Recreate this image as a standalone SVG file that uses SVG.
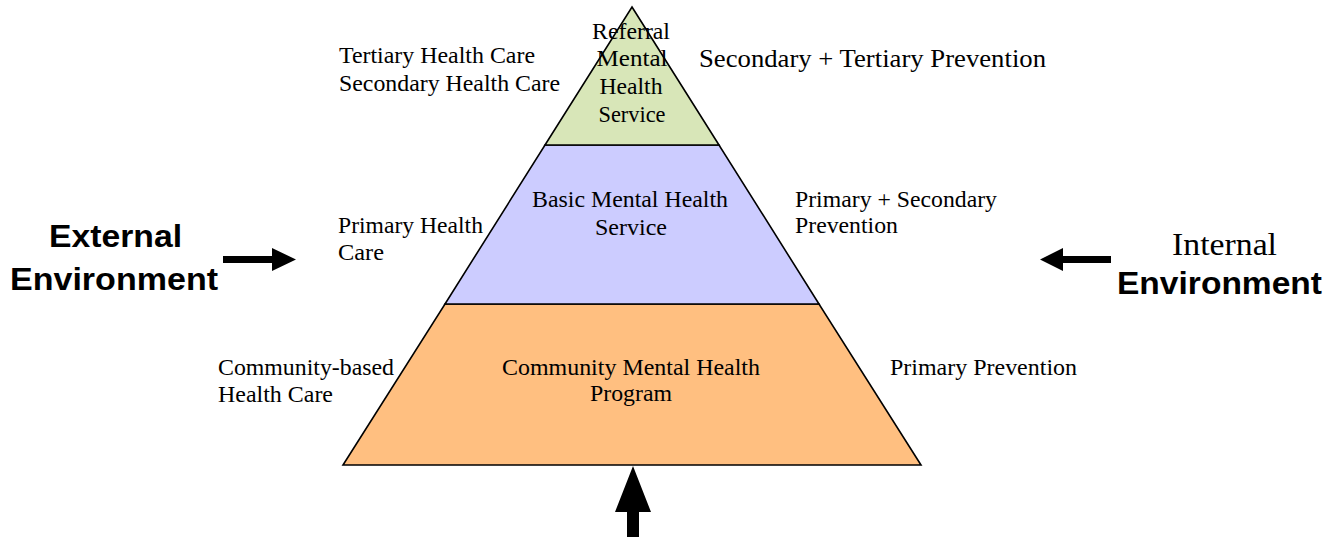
<svg xmlns="http://www.w3.org/2000/svg" width="1344" height="537" viewBox="0 0 1344 537">
  <style>
    .tier { stroke: #000; stroke-width: 1.6; stroke-linejoin: miter; }
    .serif { font-family: "Liberation Serif", "Times New Roman", serif; font-size: 23px; fill: #000; }
    .big { font-size: 26px; }
    .huge { font-size: 32px; }
    .bold { font-family: "Liberation Sans", Arial, sans-serif; font-weight: bold; font-size: 32px; fill: #000; }
    .mid { text-anchor: middle; }
    .arrow { fill: #000; stroke: none; }
  </style>
  <rect width="1344" height="537" fill="#fff"/>

  <g id="tier-community">
    <polygon class="tier" points="445,304 819,304 921,465 343,465" fill="#ffbf80"/>
    <text class="serif mid" x="631" y="375" textLength="258" lengthAdjust="spacingAndGlyphs">Community Mental Health</text>
    <text class="serif mid" x="631" y="401" textLength="82" lengthAdjust="spacingAndGlyphs">Program</text>
  </g>

  <g id="tier-basic">
    <polygon class="tier" points="545,145 719,145 819,304 445,304" fill="#ccccff"/>
    <text class="serif mid" x="630" y="207" textLength="196" lengthAdjust="spacingAndGlyphs">Basic Mental Health</text>
    <text class="serif mid" x="631" y="235" textLength="72" lengthAdjust="spacingAndGlyphs">Service</text>
  </g>

  <g id="tier-referral">
    <polygon class="tier" points="632,7 719,145 545,145" fill="#d8e6b8"/>
    <text class="serif mid" x="631" y="39" textLength="78" lengthAdjust="spacingAndGlyphs">Referral</text>
    <text class="serif mid" x="632" y="66" textLength="71" lengthAdjust="spacingAndGlyphs">Mental</text>
    <text class="serif mid" x="631" y="94" textLength="63" lengthAdjust="spacingAndGlyphs">Health</text>
    <text class="serif mid" x="632" y="122" textLength="67" lengthAdjust="spacingAndGlyphs">Service</text>
  </g>

  <g id="label-tertiary-secondary-care">
    <text class="serif" x="339" y="63" textLength="196" lengthAdjust="spacingAndGlyphs">Tertiary Health Care</text>
    <text class="serif" x="339" y="91" textLength="221" lengthAdjust="spacingAndGlyphs">Secondary Health Care</text>
  </g>

  <g id="label-secondary-tertiary-prevention">
    <text class="serif big" x="699" y="67" textLength="347" lengthAdjust="spacingAndGlyphs">Secondary + Tertiary Prevention</text>
  </g>

  <g id="label-primary-care">
    <text class="serif" x="338" y="233" textLength="145" lengthAdjust="spacingAndGlyphs">Primary Health</text>
    <text class="serif" x="338" y="260" textLength="46" lengthAdjust="spacingAndGlyphs">Care</text>
  </g>

  <g id="label-primary-secondary-prevention">
    <text class="serif" x="795" y="207" textLength="202" lengthAdjust="spacingAndGlyphs">Primary + Secondary</text>
    <text class="serif" x="795" y="233" textLength="103" lengthAdjust="spacingAndGlyphs">Prevention</text>
  </g>

  <g id="label-community-care">
    <text class="serif" x="218" y="375" textLength="176" lengthAdjust="spacingAndGlyphs">Community-based</text>
    <text class="serif" x="218" y="402" textLength="115" lengthAdjust="spacingAndGlyphs">Health Care</text>
  </g>

  <g id="label-primary-prevention">
    <text class="serif" x="890" y="375" textLength="187" lengthAdjust="spacingAndGlyphs">Primary Prevention</text>
  </g>

  <g id="external-environment">
    <text class="bold" x="49" y="247" textLength="133" lengthAdjust="spacingAndGlyphs">External</text>
    <text class="bold" x="10" y="290" textLength="208" lengthAdjust="spacingAndGlyphs">Environment</text>
  </g>

  <g id="internal-environment">
    <text class="serif huge" x="1172" y="255" textLength="105" lengthAdjust="spacingAndGlyphs">Internal</text>
    <text class="bold" x="1117" y="294" textLength="205" lengthAdjust="spacingAndGlyphs">Environment</text>
  </g>

  <g id="connectors">
    <polygon class="arrow" points="223,256 272,256 272,248 296,259.5 272,271 272,263 223,263"/>
    <polygon class="arrow" points="1111,256 1063,256 1063,248 1040,259.5 1063,271 1063,263 1111,263"/>
    <polygon class="arrow" points="627,537 627,512 615,512 633,466 651,512 639,512 639,537"/>
  </g>
</svg>
